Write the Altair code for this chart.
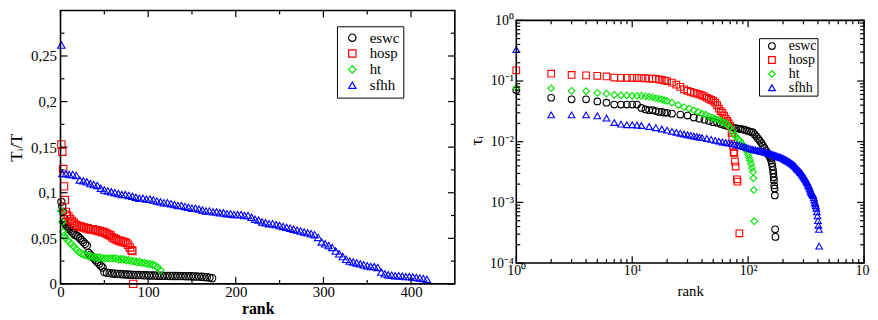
import altair as alt
import pandas as pd

SERIES = ["eswc", "hosp", "ht", "sfhh"]
COLORS = ["#000000", "#ff0000", "#00e600", "#0000ff"]
SHAPES = ["circle", "square", "diamond", "triangle-up"]

# ---------------- left panel: T_i/T vs rank (linear) ----------------
eswc_l_rank = list(range(1, 11)) + list(range(12, 31, 2)) + list(range(32, 49, 2)) + list(range(50, 175, 3))
eswc_l_val = [0.090, 0.085, 0.079, 0.072, 0.068, 0.065, 0.063, 0.062, 0.061, 0.060,
              0.058, 0.056, 0.054, 0.053, 0.052, 0.050, 0.048, 0.046, 0.044, 0.042,
              0.034, 0.032, 0.030, 0.028, 0.026, 0.024, 0.022, 0.020, 0.018,
              0.0130, 0.0122, 0.0118, 0.0115, 0.0112, 0.0110, 0.0108, 0.0106, 0.0104, 0.0102,
              0.0100, 0.0099, 0.0098, 0.0097, 0.0096, 0.0095, 0.0094, 0.0093, 0.0092, 0.0091,
              0.0090, 0.0089, 0.0089, 0.0088, 0.0088, 0.0087, 0.0087, 0.0086, 0.0086, 0.0085,
              0.0085, 0.0084, 0.0084, 0.0083, 0.0082, 0.0081, 0.0080, 0.0078, 0.0076, 0.0073,
              0.0069, 0.0063]

hosp_l_rank = list(range(1, 7)) + list(range(7, 82, 2)) + [82, 83]
hosp_l_val = [0.153, 0.145, 0.126, 0.107, 0.092, 0.079,
              0.076, 0.074, 0.071, 0.069, 0.067, 0.065, 0.064, 0.063, 0.063, 0.062,
              0.062, 0.061, 0.061, 0.060, 0.060, 0.060, 0.059, 0.059, 0.058, 0.058,
              0.057, 0.057, 0.056, 0.055, 0.054, 0.053, 0.051, 0.050, 0.049, 0.048,
              0.047, 0.047, 0.046, 0.046, 0.045, 0.043, 0.040, 0.037,
              0.036, 0.0]

ht_l_rank = [1, 2, 3, 4] + list(range(6, 115, 3))
ht_l_val = [0.080, 0.068, 0.057, 0.053,
            0.050, 0.047, 0.044, 0.041, 0.038, 0.035, 0.033, 0.032, 0.031, 0.030,
            0.030, 0.029, 0.029, 0.029, 0.028, 0.028,
            0.028, 0.028, 0.028, 0.028, 0.027, 0.027, 0.027, 0.026, 0.026, 0.025,
            0.025, 0.024, 0.024, 0.023, 0.023, 0.022, 0.022, 0.021, 0.020, 0.018, 0.015]

sfhh_l_rank = [1] + list(range(2, 419, 4))
sfhh_l_val = [0.262,
              0.121, 0.121, 0.120, 0.120, 0.119, 0.114, 0.113, 0.112, 0.110, 0.109,
              0.108, 0.105, 0.103, 0.102, 0.101, 0.100, 0.099, 0.098, 0.098, 0.097,
              0.096, 0.095, 0.094, 0.094, 0.093, 0.093, 0.092, 0.091, 0.090, 0.089,
              0.089, 0.088, 0.087, 0.086, 0.086, 0.085, 0.084, 0.083, 0.083, 0.082,
              0.081, 0.080, 0.080, 0.079, 0.079, 0.078, 0.078, 0.077, 0.077, 0.076,
              0.076, 0.076, 0.075, 0.075, 0.073, 0.071, 0.070, 0.068, 0.067, 0.066,
              0.066, 0.065, 0.064, 0.063, 0.062, 0.061, 0.060, 0.059, 0.058, 0.057,
              0.056, 0.055, 0.054, 0.051, 0.046, 0.044, 0.042, 0.040, 0.036, 0.033,
              0.030, 0.027, 0.025, 0.024, 0.023, 0.022, 0.021, 0.020, 0.019, 0.019,
              0.018, 0.013, 0.011, 0.010, 0.0095, 0.009, 0.009, 0.0085, 0.008, 0.008,
              0.0075, 0.007, 0.0065, 0.006, 0.005]

# ---------------- right panel: tau_i vs rank (log-log) ----------------
eswc_r_rank = list(range(1, 21)) + list(range(22, 151, 4)) + [153, 156, 158, 160, 162, 164, 165, 166, 167, 168, 169, 170, 171, 172]
eswc_r_val = [0.071, 0.053, 0.050, 0.050, 0.046, 0.044, 0.041, 0.041, 0.041, 0.041,
              0.041, 0.036, 0.034, 0.033, 0.033, 0.032, 0.031, 0.031, 0.030, 0.030,
              0.029, 0.028, 0.027, 0.025, 0.024, 0.023, 0.022, 0.021, 0.0205, 0.0195,
              0.0188, 0.0182, 0.0176, 0.0171, 0.0167, 0.0165, 0.0162, 0.016, 0.0156, 0.0152,
              0.0148, 0.0145, 0.0142, 0.0132, 0.0122, 0.0112, 0.0104, 0.0095, 0.0087, 0.0079,
              0.0072, 0.0066, 0.0061,
              0.0057, 0.0053, 0.0049, 0.0044, 0.0039, 0.0034, 0.0030, 0.0026, 0.0023, 0.0019,
              0.0017, 0.0013, 0.00036, 0.00027]

hosp_r_rank = list(range(1, 21)) + list(range(22, 73, 2)) + [73, 74, 75, 76, 77, 78, 80, 81, 84]
hosp_r_val = [0.150, 0.132, 0.126, 0.124, 0.122, 0.119, 0.114, 0.113, 0.113, 0.113,
              0.112, 0.112, 0.111, 0.110, 0.110, 0.108, 0.106, 0.104, 0.102, 0.100,
              0.094, 0.087, 0.080, 0.073, 0.069, 0.066, 0.064, 0.062, 0.060, 0.058,
              0.056, 0.053, 0.051, 0.049, 0.047, 0.044, 0.040, 0.035, 0.032, 0.030,
              0.027, 0.024, 0.022, 0.020, 0.018, 0.014,
              0.012, 0.0085, 0.0067, 0.0064, 0.0047, 0.0039, 0.0024, 0.0022, 0.00031]

ht_r_rank = list(range(1, 21)) + list(range(22, 98, 3)) + [100, 102, 104, 106, 108, 110, 111, 112, 113]
ht_r_val = [0.077, 0.076, 0.069, 0.068, 0.064, 0.062, 0.059, 0.058, 0.058, 0.057,
            0.057, 0.057, 0.056, 0.055, 0.054, 0.052, 0.051, 0.050, 0.048, 0.047,
            0.044, 0.040, 0.037, 0.035, 0.033, 0.031, 0.029, 0.028, 0.026, 0.025,
            0.024, 0.023, 0.022, 0.021, 0.020, 0.019, 0.017, 0.015, 0.013, 0.012,
            0.011, 0.0104, 0.0093, 0.0085, 0.0077, 0.0071,
            0.0062, 0.0055, 0.0049, 0.0043, 0.0037, 0.0032, 0.0025, 0.0016, 0.00049]

sfhh_r_rank = list(range(1, 13)) + list(range(14, 41, 2)) + list(range(44, 409, 4)) + [410]
sfhh_r_val = [0.33, 0.0277, 0.0277, 0.0277, 0.0267, 0.0245, 0.0207, 0.0195, 0.019, 0.019, 0.0188, 0.0185,
              0.0178, 0.0170, 0.0162, 0.0155, 0.0148, 0.0143, 0.0138, 0.0134, 0.0130, 0.0127,
              0.0124, 0.0121, 0.0119, 0.0117,
              0.0113, 0.0109, 0.0105, 0.0102, 0.0099, 0.0097, 0.0095, 0.0093, 0.0091, 0.0089,
              0.0087, 0.0085, 0.0083, 0.0081, 0.0079, 0.0077, 0.0075, 0.0074, 0.0073, 0.0072,
              0.0071, 0.0070, 0.0069, 0.0068, 0.0067, 0.0066, 0.0065, 0.0064, 0.0063, 0.0062,
              0.0061, 0.0060, 0.0059, 0.0058, 0.0057, 0.0056, 0.0056, 0.0055, 0.0054, 0.0053,
              0.0052, 0.0051, 0.0050, 0.0049, 0.0048, 0.0047, 0.0046, 0.0045, 0.0044, 0.0043,
              0.0042, 0.0041, 0.0040, 0.0039, 0.0037, 0.0036, 0.0035, 0.0034, 0.0033, 0.0032,
              0.0031, 0.0030, 0.0029, 0.0028, 0.0027, 0.0026, 0.0025, 0.0024, 0.0023, 0.0022,
              0.0021, 0.0020, 0.0019, 0.0018, 0.0017, 0.0016, 0.0015, 0.00145, 0.0014, 0.00135,
              0.0013, 0.0012, 0.0011, 0.0010, 0.00095, 0.00088, 0.0008, 0.0007, 0.0006, 0.0005,
              0.00042, 0.00036,
              0.00019]

# axis ticks
L_XMAJ = [0, 100, 200, 300, 400]
L_XMIN = [50, 150, 250, 350]
L_YMAJ = [0, 0.05, 0.1, 0.15, 0.2, 0.25]
L_YMIN = [0.025, 0.075, 0.125, 0.175, 0.225, 0.275]
R_XMAJ = [1, 10, 100, 1000]
R_XMIN = [m * d for d in (1, 10, 100) for m in range(2, 10)]
R_YMAJ = [1e-4, 1e-3, 1e-2, 1e-1, 1]
R_YMIN = [m * d for d in (1e-4, 1e-3, 1e-2, 1e-1) for m in range(2, 10)]

FONT = "Liberation Serif"

# canvas and panel geometry (pixels inside the canvas)
CW, CH = 870, 312
LX0, LX1, LY0, LY1 = 53, 451, 1, 277
RX0, RX1, RY0, RY1 = 513, 864, 11, 256


def frame(groups):
    rows = []
    for name, ranks, vals in groups:
        for r, v in zip(ranks, vals):
            rows.append({"series": name, "rank": r, "value": v})
    return pd.DataFrame(rows)


def inner_ticks(xscale, yscale, xmaj, xmin, ymaj, ymin, x0, x1, y0, y1):
    layers = []
    for vals, ln in ((xmaj, 7), (xmin, 4)):
        df = pd.DataFrame({"rank": vals})
        base = alt.Chart(df).mark_rule(color="black", strokeWidth=1.2)
        layers.append(base.encode(x=alt.X("rank:Q", scale=xscale, axis=None),
                                  y=alt.value(y1), y2=alt.value(y1 - ln)))
        layers.append(base.encode(x=alt.X("rank:Q", scale=xscale, axis=None),
                                  y=alt.value(y0), y2=alt.value(y0 + ln)))
    for vals, ln in ((ymaj, 7), (ymin, 4)):
        df = pd.DataFrame({"value": vals})
        base = alt.Chart(df).mark_rule(color="black", strokeWidth=1.2)
        layers.append(base.encode(y=alt.Y("value:Q", scale=yscale, axis=None),
                                  x=alt.value(x0), x2=alt.value(x0 + ln)))
        layers.append(base.encode(y=alt.Y("value:Q", scale=yscale, axis=None),
                                  x=alt.value(x1), x2=alt.value(x1 - ln)))
    return layers


def box(x0, x1, y0, y1):
    return alt.Chart(pd.DataFrame({"a": [0]})).mark_rect(
        fill=None, stroke="black", strokeWidth=1.6).encode(
        x=alt.value(x0), x2=alt.value(x1), y=alt.value(y0), y2=alt.value(y1))


def points(df, xscale, yscale, xaxis, yaxis, lx, ly, lfs, size, pad, symoff, laboff):
    leg = alt.Legend(title=None, orient="none", legendX=lx, legendY=ly,
                     strokeColor="black", fillColor="white", padding=pad,
                     labelFont=FONT, labelFontSize=lfs, labelColor="black",
                     symbolStrokeWidth=1.2, symbolSize=size, rowPadding=0,
                     symbolOffset=symoff, labelOffset=laboff)
    return alt.Chart(df).mark_point(filled=False, strokeWidth=1.1, size=size, opacity=1).encode(
        x=alt.X("rank:Q", scale=xscale, axis=xaxis),
        y=alt.Y("value:Q", scale=yscale, axis=yaxis),
        color=alt.Color("series:N", scale=alt.Scale(domain=SERIES, range=COLORS), legend=leg),
        shape=alt.Shape("series:N", scale=alt.Scale(domain=SERIES, range=SHAPES), legend=leg),
    )


left_df = frame([("eswc", eswc_l_rank, eswc_l_val), ("hosp", hosp_l_rank, hosp_l_val),
                 ("ht", ht_l_rank, ht_l_val), ("sfhh", sfhh_l_rank, sfhh_l_val)])
right_df = frame([("eswc", eswc_r_rank, eswc_r_val), ("hosp", hosp_r_rank, hosp_r_val),
                  ("ht", ht_r_rank, ht_r_val), ("sfhh", sfhh_r_rank, sfhh_r_val)])

lx = alt.Scale(domain=[0, 450], range=[LX0, LX1], nice=False, zero=False)
ly = alt.Scale(domain=[0, 0.3], range=[LY1, LY0], nice=False, zero=False)
rx = alt.Scale(type="log", domain=[1, 1000], range=[RX0, RX1], nice=False)
ry = alt.Scale(type="log", domain=[1e-4, 1], range=[RY1, RY0], nice=False)

lxaxis = alt.Axis(orient="bottom", offset=LY1 - CH, values=L_XMAJ, format="d",
                  ticks=False, domain=False, grid=False, labelFlush=False,
                  labelFont=FONT, labelFontSize=15, labelColor="black", labelPadding=1,
                  title="rank", titleFont=FONT, titleFontSize=16, titleFontWeight="bold",
                  titleColor="black", titleBaseline="alphabetic", titleY=30)
lyaxis = alt.Axis(orient="left", offset=-LX0, values=L_YMAJ,
                  labelExpr="replace(format(datum.value, '.2~f'), '.', ',')",
                  ticks=False, domain=False, grid=False,
                  labelFont=FONT, labelFontSize=15, labelColor="black", labelPadding=4,
                  title="Tᵢ/T", titleFont=FONT, titleFontSize=17, titleFontWeight="normal",
                  titleColor="black", titleBaseline="alphabetic", titleX=-39, titleY=139)
rxaxis = alt.Axis(orient="bottom", offset=RY1 - CH, values=R_XMAJ,
                  labelExpr="datum.value < 5 ? '10⁰' : datum.value < 50 ? '10¹' : datum.value < 500 ? '10²' : '10³'",
                  ticks=False, domain=False, grid=False, labelFlush=False,
                  labelFont=FONT, labelFontSize=14, labelColor="black", labelPadding=1,
                  title="rank", titleFont=FONT, titleFontSize=15, titleFontWeight="normal",
                  titleColor="black", titleBaseline="alphabetic", titleY=33)
ryaxis = alt.Axis(orient="left", offset=-RX0, values=R_YMAJ,
                  labelExpr="datum.value > 0.5 ? '10⁰' : datum.value > 0.05 ? '10⁻¹' : datum.value > 0.005 ? '10⁻²' : datum.value > 0.0005 ? '10⁻³' : '10⁻⁴'",
                  ticks=False, domain=False, grid=False,
                  labelFont=FONT, labelFontSize=14, labelColor="black", labelPadding=3,
                  title="τᵢ", titleFont=FONT, titleFontSize=17, titleFontWeight="normal",
                  titleColor="black", titleBaseline="alphabetic", titleX=-35, titleY=132)

layers = [
    points(left_df, lx, ly, lxaxis, lyaxis, 332, 17, 15, 55, 4, 4, 10),
    *inner_ticks(lx, ly, L_XMAJ, L_XMIN, L_YMAJ, L_YMIN, LX0, LX1, LY0, LY1),
    box(LX0, LX1, LY0, LY1),
    points(right_df, rx, ry, rxaxis, ryaxis, 758, 29, 14, 45, 1, 5, 10),
    *inner_ticks(rx, ry, R_XMAJ, R_XMIN, R_YMAJ, R_YMIN, RX0, RX1, RY0, RY1),
    box(RX0, RX1, RY0, RY1),
]

chart = alt.layer(*layers).resolve_scale(
    x="independent", y="independent", color="independent", shape="independent"
).resolve_axis(x="independent", y="independent").resolve_legend(
    color="independent", shape="independent"
).properties(
    width=CW, height=CH, padding=0, autosize=alt.AutoSizeParams(type="none")
).configure_view(stroke=None)

chart.save("out.html", embed_options={"renderer": "svg", "actions": False})
